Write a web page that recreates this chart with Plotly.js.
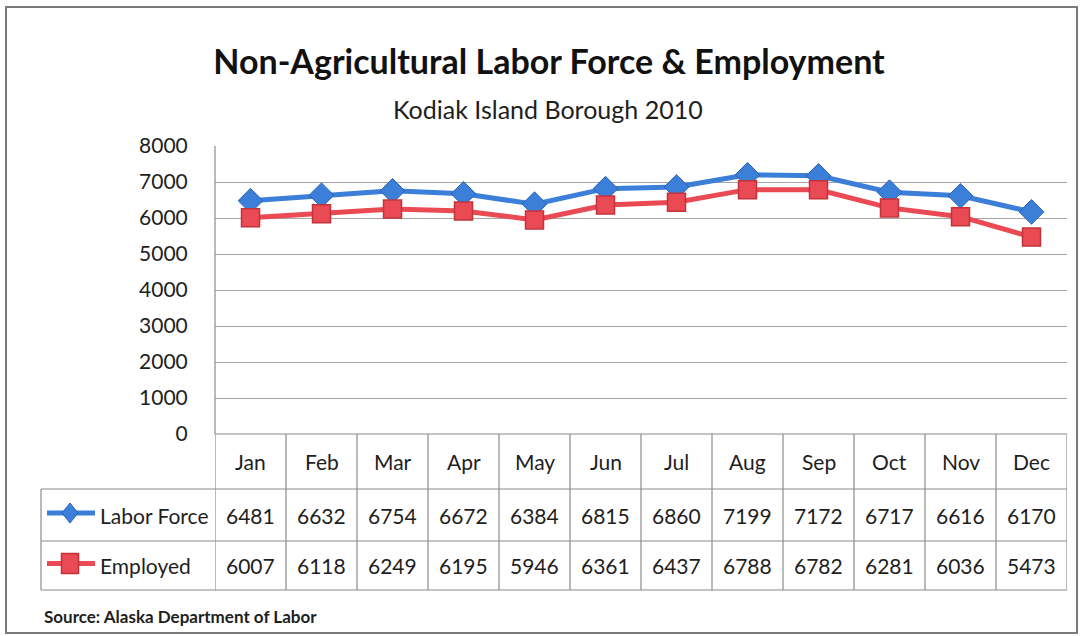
<!DOCTYPE html>
<html>
<head>
<meta charset="utf-8">
<script src="https://cdn.plot.ly/plotly-3.0.1.min.js"></script>
<style>
html,body{margin:0;padding:0;background:#fff;}
#chart{width:1081px;height:636px;}
</style>
</head>
<body>
<div id="chart"></div>
<script>
// ---- data ----
const months = ['Jan','Feb','Mar','Apr','May','Jun','Jul','Aug','Sep','Oct','Nov','Dec'];
const laborForce = [6481,6632,6754,6672,6384,6815,6860,7199,7172,6717,6616,6170];
const employed = [6007,6118,6249,6195,5946,6361,6437,6788,6782,6281,6036,5473];
const seriesNames = ['Labor Force','Employed'];
const yTicks = [0,1000,2000,3000,4000,5000,6000,7000,8000];

// ---- layout geometry (pixels) ----
const W = 1081, H = 636;
const L = 215, R = 1067, T = 146, B = 434;
const pw = R - L, ph = B - T;
const X = p => (p - L) / pw;          // pixel x -> paper
const Y = p => (B - p) / ph;          // pixel y -> paper

const FONT = 'Lato, "Open Sans", sans-serif';
const TXT = '#1e1e1e';
const BLUE = '#3b7fd9', BLUE_D = '#2a62b5';
const RED = '#ea4a53', RED_D = '#c2333c';
const GRID = '#a6a6a6';

const rowTop = [434, 489, 541, 590];
const rowCenters = [(rowTop[0]+rowTop[1])/2, (rowTop[1]+rowTop[2])/2, (rowTop[2]+rowTop[3])/2];
const tableLeft = 41;

const traces = [
  {x: months, y: laborForce, name: seriesNames[0], type: 'scatter', mode: 'lines+markers',
   line: {color: BLUE, width: 5},
   marker: {symbol: 'diamond', size: 19, color: BLUE, line: {color: BLUE_D, width: 1}},
   cliponaxis: false},
  {x: months, y: employed, name: seriesNames[1], type: 'scatter', mode: 'lines+markers',
   line: {color: RED, width: 5},
   marker: {symbol: 'square', size: 18, color: RED, line: {color: RED_D, width: 1.5}},
   cliponaxis: false}
];

const shapes = [];
const lineStyle = {color: '#8c8c8c', width: 1.2};
// outer frame
shapes.push({type: 'rect', xref: 'paper', yref: 'paper', x0: X(6), x1: X(1077), y0: Y(633), y1: Y(7),
  line: {color: '#7a7a7a', width: 2}});
// table horizontal lines
shapes.push({type: 'line', xref: 'paper', yref: 'paper', x0: X(L), x1: X(R), y0: Y(rowTop[0]), y1: Y(rowTop[0]), line: lineStyle});
for (let r = 1; r < rowTop.length; r++) {
  shapes.push({type: 'line', xref: 'paper', yref: 'paper', x0: X(tableLeft), x1: X(R), y0: Y(rowTop[r]), y1: Y(rowTop[r]), line: lineStyle});
}
// table vertical lines (at category boundaries)
for (let k = 0; k <= months.length; k++) {
  shapes.push({type: 'line', xref: 'x', yref: 'paper', x0: k - 0.5, x1: k - 0.5, y0: Y(rowTop[0]), y1: Y(rowTop[3]), line: lineStyle});
}
shapes.push({type: 'line', xref: 'paper', yref: 'paper', x0: X(tableLeft), x1: X(tableLeft), y0: Y(rowTop[1]), y1: Y(rowTop[3]), line: lineStyle});
// plot-area left axis line
shapes.push({type: 'line', xref: 'paper', yref: 'paper', x0: 0, x1: 0, y0: 0, y1: 1, line: lineStyle});

// legend keys inside table rows
const keyX0 = 47, keyX1 = 95, keyC = 70;
const ky1 = rowCenters[1] - 2, ky2 = rowCenters[2] - 2;
shapes.push({type: 'line', xref: 'paper', yref: 'paper', x0: X(keyX0), x1: X(keyX1), y0: Y(ky1), y1: Y(ky1), line: {color: BLUE, width: 5}});
shapes.push({type: 'path', xref: 'paper', yref: 'paper', fillcolor: BLUE, line: {color: BLUE_D, width: 1},
  path: `M ${X(keyC)},${Y(ky1-10)} L ${X(keyC+8)},${Y(ky1)} L ${X(keyC)},${Y(ky1+10)} L ${X(keyC-8)},${Y(ky1)} Z`});
shapes.push({type: 'line', xref: 'paper', yref: 'paper', x0: X(keyX0), x1: X(keyX1), y0: Y(ky2), y1: Y(ky2), line: {color: RED, width: 5}});
shapes.push({type: 'rect', xref: 'paper', yref: 'paper', fillcolor: RED, line: {color: RED_D, width: 1.5},
  x0: X(keyC-8.5), x1: X(keyC+8.5), y0: Y(ky2+10), y1: Y(ky2-10)});

const annotations = [];
const cellFont = {family: FONT, size: 21, color: TXT};
months.forEach((m, i) => {
  annotations.push({xref: 'x', yref: 'paper', x: i, y: Y(rowCenters[0]), text: m, showarrow: false, font: cellFont, xanchor: 'center', yanchor: 'middle'});
  annotations.push({xref: 'x', yref: 'paper', x: i, y: Y(rowCenters[1]), text: String(laborForce[i]), showarrow: false, font: cellFont, xanchor: 'center', yanchor: 'middle'});
  annotations.push({xref: 'x', yref: 'paper', x: i, y: Y(rowCenters[2]), text: String(employed[i]), showarrow: false, font: cellFont, xanchor: 'center', yanchor: 'middle'});
});
seriesNames.forEach((n, j) => {
  annotations.push({xref: 'paper', yref: 'paper', x: X(98), y: Y(rowCenters[j+1]), text: n, showarrow: false,
    font: {family: FONT, size: 21, color: TXT}, xanchor: 'left', yanchor: 'middle'});
});
// subtitle
annotations.push({xref: 'paper', yref: 'paper', x: X(548), y: Y(109), text: 'Kodiak Island Borough 2010', showarrow: false,
  font: {family: FONT, size: 25, color: TXT}, xanchor: 'center', yanchor: 'middle'});
// source
annotations.push({xref: 'paper', yref: 'paper', x: X(42), y: Y(616), text: '<b>Source: Alaska Department of Labor</b>', showarrow: false,
  font: {family: FONT, size: 17, color: TXT}, xanchor: 'left', yanchor: 'middle'});

const layout = {
  width: W, height: H,
  margin: {l: L, r: W - R, t: T, b: H - B, pad: 0},
  paper_bgcolor: '#ffffff', plot_bgcolor: '#ffffff',
  showlegend: false,
  title: {text: '<b>Non-Agricultural Labor Force &amp; Employment</b>', xref: 'paper', x: X(549), xanchor: 'center',
    yref: 'container', y: 1 - 62/H, yanchor: 'middle',
    font: {family: FONT, size: 34, color: '#111'}},
  xaxis: {type: 'category', range: [-0.5, months.length - 0.5], showticklabels: false, showgrid: false,
    zeroline: false, showline: false, ticks: '', fixedrange: true},
  yaxis: {range: [0, 8000], tickvals: yTicks, ticktext: yTicks.map(String), showgrid: true, gridcolor: GRID, gridwidth: 1,
    zeroline: false, showline: false, ticks: 'outside', ticklen: 22, tickcolor: 'rgba(0,0,0,0)',
    tickfont: {family: FONT, size: 21, color: TXT}, fixedrange: true},
  shapes: shapes,
  annotations: annotations
};

Plotly.newPlot('chart', traces, layout, {displayModeBar: false, staticPlot: true});
</script>
</body>
</html>
